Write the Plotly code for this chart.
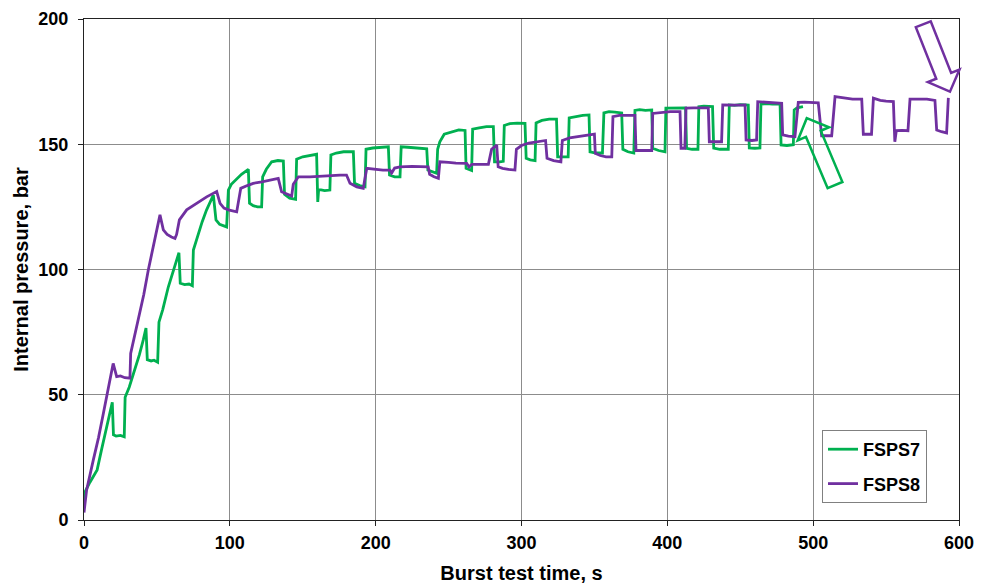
import plotly.graph_objects as go

# ---------------- data ----------------
fsps7_t = [0, 0.5, 4, 9, 12, 16, 19.4, 20.2, 22, 25, 27.6, 28.2, 31, 34, 38, 40.7, 42.5, 43.4, 46, 48, 50.5,
           51.4, 54, 57.8, 61, 65.1, 66, 69, 72, 74.3, 75, 78.4, 81, 84, 88.7, 90.5, 93, 97.8, 99, 101, 104.7,
           108, 112.7, 113.5, 116, 119, 121.8, 122.5, 125, 128.7, 133, 136.7, 137.5, 141, 145.1, 145.8, 150,
           155, 159.5, 160.3, 160.9, 165, 168.6, 169.3, 173, 178, 184.7, 185.5, 189, 192.7, 193.4, 198, 203,
           208.7, 209.5, 213, 216.7, 217.5, 222, 228, 235, 235.8, 239, 241.8, 242.5, 244, 247, 252, 257, 261.3,
           262, 265.8, 266.5, 271, 276, 280.7, 281.5, 285, 287.5, 288.2, 292, 297, 302.4, 303.2, 306, 309.3,
           310, 314, 319, 324, 324.8, 328, 332, 332.7, 337, 342, 346.3, 347, 351, 355.5, 356.5, 360, 364,
           368.7, 369.5, 373, 377, 377.8, 381, 385, 389.3, 390, 394, 398.4, 399, 403, 408, 412.5, 413.2, 417,
           421, 421.6, 425, 431, 431.8, 436, 441.8, 442.5, 446, 450, 455.5, 456.2, 460, 463.5, 464.2, 468, 472,
           477.3, 478, 482, 486.4, 487, 489, 493]
fsps7_p = [8, 11, 15, 20, 28, 38, 47, 34, 33.5, 33.8, 33.2, 49, 53, 58.6, 66, 72, 76.6, 64, 63.5, 63.8, 63,
           79, 84, 93, 99, 106.7, 94.5, 94, 94.2, 93.5, 107.8, 114.4, 119, 123.7, 129.7, 119.8, 118, 117, 131.7,
           134, 136, 138, 140, 126.5, 125.5, 125, 125, 137, 140, 143, 143.5, 143.3, 130, 128.5, 128, 144, 145,
           145.5, 146, 127, 132, 131.5, 131.7, 145.7, 146.5, 147, 147, 134.4, 133.5, 133, 148, 148.5, 148.7,
           149, 137.7, 137, 137, 149, 148.8, 148.5, 148.2, 139.7, 139, 138.4, 148, 151, 154, 155, 155.7, 155.5,
           140.4, 139.5, 156, 156.5, 157, 157, 143, 143, 143.2, 157.5, 158.2, 158.4, 158.3, 144.4, 143.8, 143.5,
           158.5, 159.5, 160, 160, 145, 145, 145, 160.5, 161, 161.5, 161.7, 147, 146.5, 146.5, 162.5, 163, 162.8,
           162.5, 148, 147, 146.5, 163.5, 163.8, 163.5, 163.7, 148.4, 147.5, 147, 164.4, 164.5, 164.6, 164.5,
           148.4, 148, 148, 165, 165.2, 165, 148.5, 148, 148, 165.7, 165.5, 165.8, 165.6, 148.5, 148.4, 148.5,
           166, 166.2, 166, 166, 149.7, 149.5, 149.8, 163.7, 164.5, 165]

fsps8_t = [0, 1.8, 6.4, 10, 13.3, 17, 20, 22.4, 25, 28, 31.5, 32, 35, 38.4, 41, 44.1, 48, 52.1, 54.4, 57, 60,
           62.4, 63.5, 65.4, 70.4, 77.3, 84.1, 91, 93.3, 96, 99, 104.7, 106, 107.5, 112, 116, 122, 127.5, 133.2,
           135.5, 139, 142.4, 143.5, 147, 155, 162, 170, 175.5, 180, 182.4, 187, 191.5, 193.9, 200, 205, 209.8,
           211, 213, 216.7, 225, 230, 236, 237, 240, 243, 244, 250, 255, 262.4, 264, 266, 272, 277.3, 279.5,
           283, 284, 287, 291, 295.5, 296.5, 300, 305, 310, 316.5, 317.5, 322, 327, 328, 333, 340, 345, 350,
           350.6, 354, 358, 361.9, 362.7, 367, 372, 377.8, 378.5, 383, 389.3, 390, 396, 402, 408.7, 409.4, 412,
           412.8, 418, 423, 428.1, 428.8, 433, 437.2, 438, 443, 448, 453.3, 454, 458, 461.2, 462, 467, 472,
           478.4, 479.1, 483, 487.5, 489.8, 494, 499, 503.5, 505.8, 509, 512.7, 515, 520, 527, 533.3, 534.4,
           537, 540, 541.3, 546, 550, 555, 556, 557, 561, 565, 566.4, 572, 578, 583.5, 584.7, 588, 591.5, 592.7]
fsps8_p = [3, 12, 24, 33, 42.6, 53, 62.5, 57.2, 57.5, 56.8, 56.6, 66.5, 74, 82.5, 90, 99.8, 111, 121.8, 115.8,
           114, 113, 112.4, 114, 119.8, 123.8, 126.4, 129, 131.1, 126.4, 124.5, 123.8, 123, 128, 132.4, 133.5,
           134.4, 135, 135.7, 136.4, 131, 130, 129.3, 134, 137, 137, 137.3, 137.5, 137.7, 137.7, 134.4, 133,
           132.4, 140.4, 140, 139.7, 139.7, 138.5, 140.5, 141, 141.2, 141, 141, 138, 137, 136.4, 143, 142.8,
           142.5, 142.4, 141, 142, 142, 142, 148, 149.7, 141, 140.4, 140, 139.7, 148, 149.5, 150.5, 151, 151.5,
           144.4, 143.5, 143, 151.5, 152.5, 153, 153.5, 154, 146.4, 145.5, 145, 145, 161, 161.5, 161.5, 161.5,
           147.5, 147.5, 147.5, 162.3, 162.8, 163, 163, 148.4, 148.4, 164.4, 164.5, 164.4, 164.5, 151, 151, 151,
           165.7, 165.8, 165.6, 165.7, 151.7, 151.5, 151.7, 167, 166.8, 166.5, 166.3, 153.7, 153.2, 153, 166.7,
           166.8, 166.5, 166.5, 153.4, 153.5, 153.4, 169, 168.5, 168, 168, 154, 154, 154, 168.4, 167.5, 167.2,
           167, 151, 155.4, 155.5, 155.4, 168, 168, 168, 167.5, 155.7, 155, 154.5, 168.5]

x_ticks = [0, 100, 200, 300, 400, 500, 600]
y_ticks = [0, 50, 100, 150, 200]

GREEN = "#00B050"
PURPLE = "#7030A0"
FONT = "Liberation Sans, Arial, sans-serif"

W, H = 988, 588
ML, MR, MT, MB = 84, 29, 19, 68
PW, PH = W - ML - MR, H - MT - MB
XR, YR = (0, 600), (0, 200)

fig = go.Figure()
fig.add_trace(go.Scatter(x=fsps7_t, y=fsps7_p, mode="lines", name="FSPS7",
                         line=dict(color=GREEN, width=2.8), legendgroup="a"))
fig.add_trace(go.Scatter(x=fsps8_t, y=fsps8_p, mode="lines", name="FSPS8",
                         line=dict(color=PURPLE, width=2.8), legendgroup="b"))


# outline arrows (annotation): tip and tail centre in data units
def arrow_path(tail, tip, body_hw=8, head_hw=17, head_len=17):
    def to_px(pt):
        return ((pt[0] - XR[0]) / (XR[1] - XR[0]) * PW, (pt[1] - YR[0]) / (YR[1] - YR[0]) * PH)
    tx, ty = to_px(tail)
    hx, hy = to_px(tip)
    dx, dy = hx - tx, hy - ty
    L = (dx * dx + dy * dy) ** 0.5
    ux, uy = dx / L, dy / L
    nx, ny = -uy, ux
    bx, by = hx - ux * head_len, hy - uy * head_len
    pts = [(tx + nx * body_hw, ty + ny * body_hw), (bx + nx * body_hw, by + ny * body_hw),
           (bx + nx * head_hw, by + ny * head_hw), (hx, hy),
           (bx - nx * head_hw, by - ny * head_hw), (bx - nx * body_hw, by - ny * body_hw),
           (tx - nx * body_hw, ty - ny * body_hw)]
    s = ""
    for i, (px, py) in enumerate(pts):
        s += ("M" if i == 0 else "L") + f"{px / PW:.5f},{py / PH:.5f} "
    return s + "Z"


green_arrow = dict(tail=(515, 133.7), tip=(495.6, 160.4))
purple_arrow = dict(tail=(575.5, 197.9), tip=(593.8, 171))

for arr, col in [(green_arrow, GREEN), (purple_arrow, PURPLE)]:
    fig.add_shape(type="path", xref="paper", yref="paper",
                  path=arrow_path(arr["tail"], arr["tip"]),
                  line=dict(color=col, width=2.5), fillcolor="rgba(0,0,0,0)", layer="above")

axis_common = dict(showgrid=True, gridcolor="#8c8c8c", gridwidth=1,
                   showline=True, linecolor="#222", linewidth=1, mirror=True,
                   ticks="outside", ticklen=5, tickcolor="#222", zeroline=False,
                   tickfont=dict(family=FONT, size=18, color="black", weight="bold"))

fig.update_xaxes(range=list(XR), tickvals=x_ticks, ticktext=[str(v) for v in x_ticks],
                 title=dict(text="<b>Burst test time, s</b>", font=dict(family=FONT, size=20, color="black"),
                            standoff=14),
                 ticklabelstandoff=1, **axis_common)
fig.update_yaxes(range=list(YR), tickvals=y_ticks, ticktext=[str(v) for v in y_ticks],
                 title=dict(text="<b>Internal pressure, bar</b>", font=dict(family=FONT, size=20, color="black"),
                            standoff=4),
                 ticklabelstandoff=6, **axis_common)

fig.update_layout(
    width=W, height=H,
    margin=dict(l=ML, r=MR, t=MT, b=MB, autoexpand=False),
    paper_bgcolor="white", plot_bgcolor="white",
    showlegend=True,
    legend=dict(x=(822 - ML) / PW, y=(H - MB - 430) / PH, xanchor="left", yanchor="top",
                bgcolor="white", bordercolor="#808080", borderwidth=1,
                font=dict(family=FONT, size=18, color="black", weight="bold"),
                traceorder="grouped", tracegroupgap=8, itemwidth=30),
)

fig.write_html("out.html")
